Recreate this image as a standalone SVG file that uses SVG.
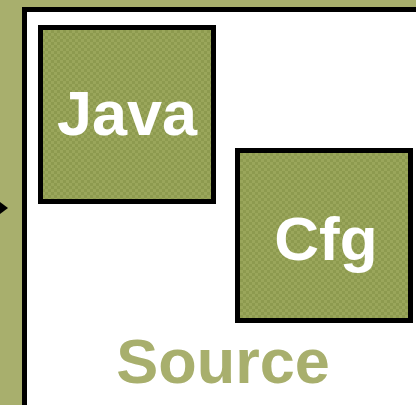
<svg xmlns="http://www.w3.org/2000/svg" width="416" height="405" viewBox="0 0 416 405">
  <style>
    .box { stroke: #000; stroke-width: 5; fill: url(#weave); }
    .frame { stroke: #000; stroke-width: 5; fill: #fff; }
    .lbl { font-family: "Liberation Sans", Arial, sans-serif; font-weight: bold; fill: #fff; text-anchor: middle; }
    .title { font-family: "Liberation Sans", Arial, sans-serif; font-weight: bold; fill: #a8af6d; text-anchor: middle; }
  </style>
  <defs>
    <!-- woven checker texture for the module boxes -->
    <pattern id="weave" width="6" height="6" patternUnits="userSpaceOnUse">
      <rect width="6" height="6" fill="#8d9a4f"/>
      <rect width="3" height="3" fill="#9aa65b"/>
      <rect x="3" y="3" width="3" height="3" fill="#9aa65b"/>
    </pattern>
  </defs>

  <!-- backdrop -->
  <rect width="416" height="405" fill="#a8af6d"/>

  <!-- container -->
  <g id="source">
    <rect class="frame" x="24.5" y="9.5" width="420" height="420"/>
    <text class="title" x="223" y="383" font-size="63">Source</text>
  </g>

  <g id="java">
    <rect class="box" x="40.5" y="27.5" width="173" height="174"/>
    <text class="lbl" x="127" y="135" font-size="63">Java</text>
  </g>

  <g id="cfg">
    <rect class="box" x="237.5" y="150.5" width="173" height="170"/>
    <text class="lbl" x="326" y="260" font-size="62">Cfg</text>
  </g>

  <g id="connectors">
    <polygon points="0,202 8,208 0,214" fill="#000"/>
  </g>
</svg>
